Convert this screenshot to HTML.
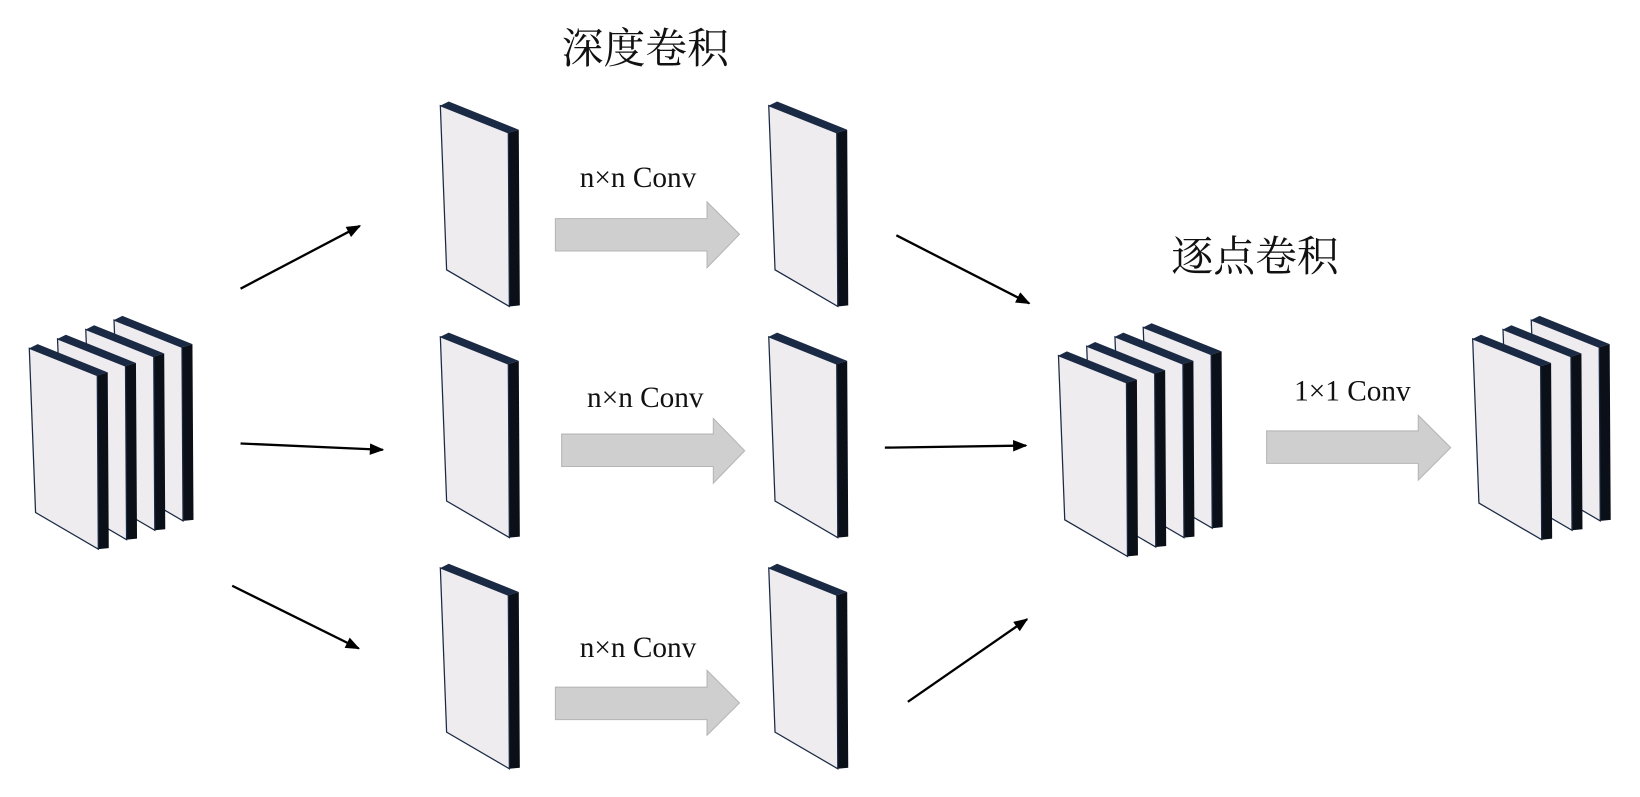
<!DOCTYPE html>
<html><head><meta charset="utf-8"><style>
html,body{margin:0;padding:0;background:#fff;}
svg{display:block;}
text{font-family:"Liberation Serif","Noto Serif CJK SC",serif;fill:#111;}
</style></head><body>
<svg width="1640" height="797" viewBox="0 0 1568 762" preserveAspectRatio="none" xmlns="http://www.w3.org/2000/svg">
<defs>
<g id="p">
  <polygon points="0,0 65,26 75,23 8,-4" fill="#1b2a44"/>
  <polygon points="65,26 75,23 76,191 66,192" fill="#0a0f18"/>
  <polygon points="0,0 65,26 66,192 6,157" fill="#eeecef" stroke="#1b2a44" stroke-width="1.2"/>
</g>
<marker id="ah" markerWidth="10" markerHeight="8" refX="9" refY="4" orient="auto" markerUnits="userSpaceOnUse">
  <path d="M0,0 L10,4 L0,8 Z" fill="#000"/>
</marker>
<marker id="ah2" viewBox="0 0 10 8" markerWidth="14" markerHeight="11" refX="9" refY="4" orient="auto" markerUnits="userSpaceOnUse">
  <path d="M0,0 L10,4 L0,8 Z" fill="#000"/>
</marker>
</defs>

<!-- left stack -->
<use href="#p" x="109" y="306"/>
<use href="#p" x="82" y="315"/>
<use href="#p" x="55" y="324"/>
<use href="#p" x="28" y="333"/>

<!-- middle column -->
<use href="#p" x="421" y="101"/>
<use href="#p" x="421" y="322"/>
<use href="#p" x="421" y="543"/>
<use href="#p" x="735" y="101"/>
<use href="#p" x="735" y="322"/>
<use href="#p" x="735" y="543"/>

<!-- middle stack -->
<use href="#p" x="1093" y="313"/>
<use href="#p" x="1066" y="322"/>
<use href="#p" x="1039" y="331"/>
<use href="#p" x="1012" y="340"/>

<!-- right stack -->
<use href="#p" x="1464" y="306"/>
<use href="#p" x="1437" y="315"/>
<use href="#p" x="1408" y="324"/>

<!-- gray arrows -->
<g fill="#cfcfcf" stroke="#b5b5b5" stroke-width="1">
<polygon points="531,209 676,209 676,193 707,224 676,256 676,240 531,240"/>
<polygon points="537,415 682,415 682,400 712,431 682,462 682,446 537,446"/>
<polygon points="531,657 676,657 676,641 707,672 676,703 676,688 531,688"/>
<polygon points="1211,412 1356,412 1356,397 1387,428 1356,459 1356,443 1211,443"/>
</g>

<!-- black arrows -->
<g stroke="#000" stroke-width="2.2" fill="none">
<line x1="230" y1="276" x2="344" y2="216" marker-end="url(#ah2)"/>
<line x1="230" y1="424" x2="366" y2="430" marker-end="url(#ah2)"/>
<line x1="222" y1="560" x2="343" y2="620" marker-end="url(#ah2)"/>
<line x1="857" y1="225" x2="984" y2="290" marker-end="url(#ah2)"/>
<line x1="846" y1="428" x2="981" y2="426" marker-end="url(#ah2)"/>
<line x1="868" y1="671" x2="982" y2="592" marker-end="url(#ah2)"/>
</g>

<!-- labels -->
<text x="610" y="179" font-size="28" text-anchor="middle">n×n Conv</text>
<text x="617" y="389" font-size="28" text-anchor="middle">n×n Conv</text>
<text x="610" y="628" font-size="28" text-anchor="middle">n×n Conv</text>
<text x="1293" y="383" font-size="28" text-anchor="middle">1×1 Conv</text>
<text x="617" y="60" font-size="40" text-anchor="middle">深度卷积</text>
<text x="1200" y="259" font-size="40" text-anchor="middle">逐点卷积</text>
</svg>
</body></html>
